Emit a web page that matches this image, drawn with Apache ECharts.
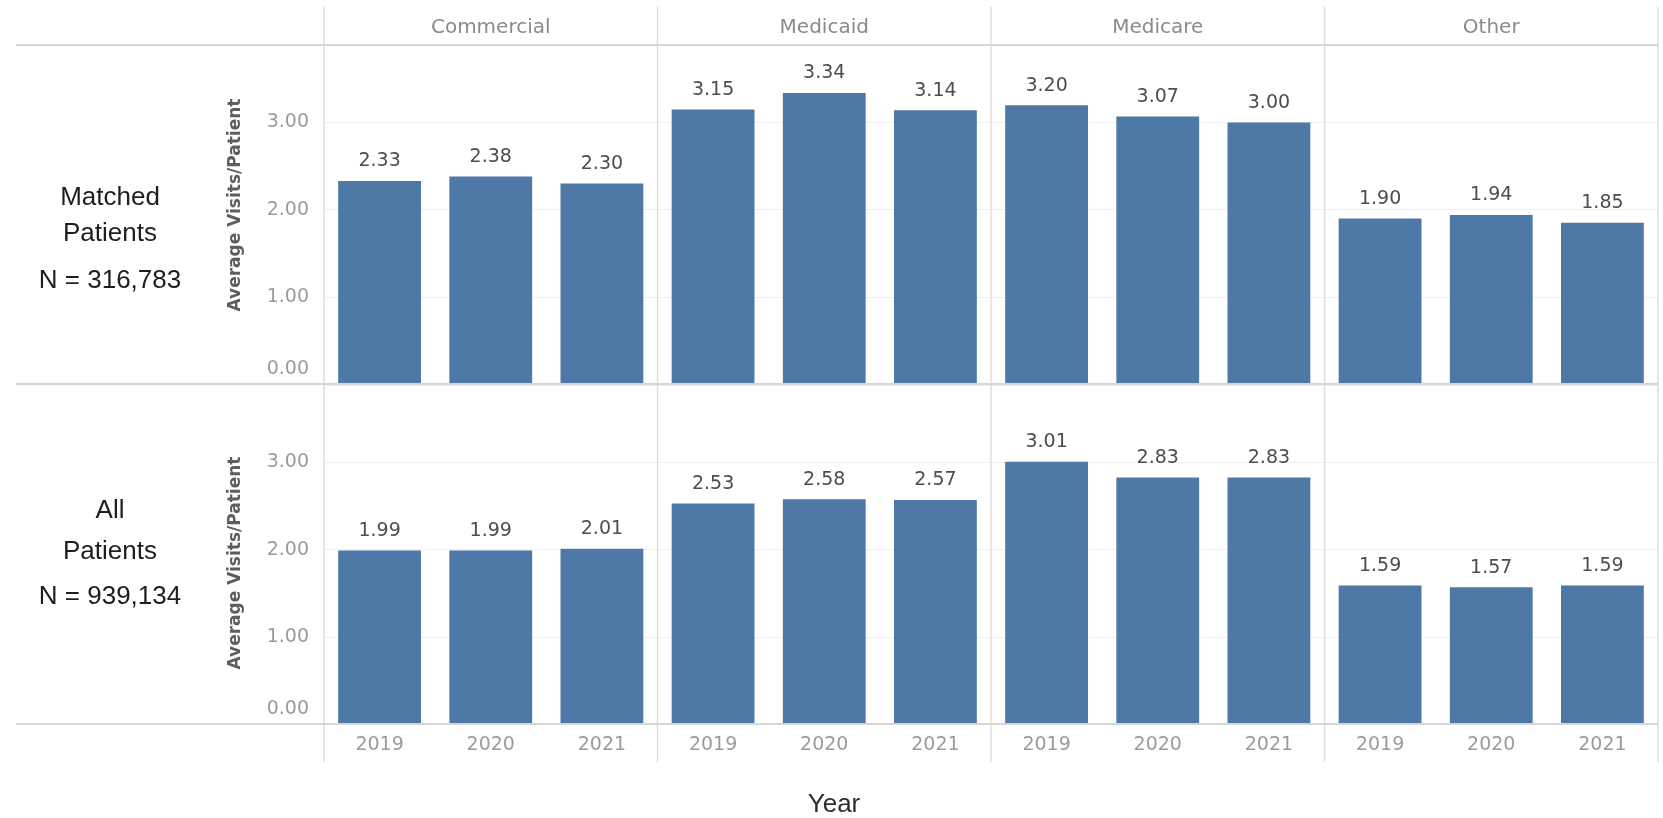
<!DOCTYPE html>
<html>
<head>
<meta charset="utf-8">
<script src="https://cdn.jsdelivr.net/npm/echarts/dist/echarts.min.js"></script>
<style>
  html, body { margin: 0; padding: 0; background: #ffffff; }
  #chart { width: 1663px; height: 818px; }
</style>
</head>
<body>
<div id="chart"></div>
<script>
// Average visits per patient by payer and year
const years = ['2019', '2020', '2021'];
const payers = ['Commercial', 'Medicaid', 'Medicare', 'Other'];

const matchedCommercial = [2.33, 2.38, 2.30];
const matchedMedicaid   = [3.15, 3.34, 3.14];
const matchedMedicare   = [3.20, 3.07, 3.00];
const matchedOther      = [1.90, 1.94, 1.85];

const allCommercial = [1.99, 1.99, 2.01];
const allMedicaid   = [2.53, 2.58, 2.57];
const allMedicare   = [3.01, 2.83, 2.83];
const allOther      = [1.59, 1.57, 1.59];

const yTicks = [0, 1, 2, 3];
const rowNames = [['Matched', 'Patients'], ['All', 'Patients']];
const rowCounts = ['N = 316,783', 'N = 939,134'];
const yTitle = 'Average Visits/Patient';
const xTitle = 'Year';

const rows = [
  [matchedCommercial, matchedMedicaid, matchedMedicare, matchedOther],
  [allCommercial, allMedicaid, allMedicare, allOther]
];

// panel layout
const paneLeft = 324, paneW = 333.5;
const rowTop = [45, 385], paneH = 339;
const yMax = 3.89;
const lineStart = 16, lineEnd = paneLeft + 4 * paneW;
const FONT = 'DejaVu Sans';
const SANS = 'Liberation Sans';
const BAR = '#4e79a7';

const grids = [], xAxes = [], yAxes = [], series = [];

rows.forEach((rowData, r) => {
  rowData.forEach((values, c) => {
    const idx = grids.length;
    grids.push({
      left: paneLeft + c * paneW,
      top: rowTop[r],
      width: paneW,
      height: paneH,
      containLabel: false,
      outerBoundsMode: 'none'
    });
    xAxes.push({
      type: 'category',
      gridIndex: idx,
      data: years,
      axisLine: { show: false },
      axisTick: { show: false },
      splitLine: { show: false },
      axisLabel: {
        show: r === 1,
        color: '#9b9b9b',
        fontFamily: FONT,
        fontSize: 19,
        margin: 12
      }
    });
    yAxes.push({
      type: 'value',
      gridIndex: idx,
      min: 0,
      max: yMax,
      interval: 1,
      axisLine: { show: false },
      axisTick: { show: false },
      splitLine: { show: true, lineStyle: { color: '#efefef', width: 1 } },
      axisLabel: {
        show: c === 0,
        color: '#9b9b9b',
        fontFamily: FONT,
        fontSize: 19,
        margin: 15,
        formatter: v => {
          if (!yTicks.includes(v)) return '';
          return v === 0 ? '{z|0.00}' : v.toFixed(2);
        },
        rich: {
          z: { color: '#9b9b9b', fontFamily: FONT, fontSize: 19, padding: [0, 0, 30, 0] }
        }
      }
    });
    series.push({
      type: 'bar',
      xAxisIndex: idx,
      yAxisIndex: idx,
      data: values,
      barCategoryGap: '25.5%',
      itemStyle: { color: BAR },
      label: {
        show: true,
        position: 'top',
        distance: 10,
        color: '#4d4d4d',
        fontFamily: FONT,
        fontSize: 19,
        formatter: p => p.value.toFixed(2)
      },
      emphasis: { disabled: true },
      animation: false
    });
  });
});

// frame lines, headers and row titles
const graphic = [];
const rowBottoms = [rowTop[0], rowTop[1] - 1, rowTop[1] + paneH];
rowBottoms.forEach(y => {
  graphic.push({
    type: 'line', silent: true, z: 5,
    shape: { x1: lineStart, y1: y, x2: lineEnd, y2: y },
    style: { stroke: '#d5d5d5', lineWidth: 2 }
  });
});
for (let c = 0; c <= payers.length; c++) {
  const x = paneLeft + c * paneW;
  graphic.push({
    type: 'line', silent: true, z: 4,
    shape: { x1: x, y1: 7, x2: x, y2: 762 },
    style: { stroke: '#dedede', lineWidth: 1.5 }
  });
}
payers.forEach((name, c) => {
  graphic.push({
    type: 'text', silent: true,
    x: paneLeft + (c + 0.5) * paneW, y: 28,
    style: { text: name, fill: '#8a8a8a', font: '20px "' + FONT + '"', align: 'center', verticalAlign: 'middle' }
  });
});
const rowTextY = [[198, 234, 281], [511, 552, 597]];
const titleY = [205, 563];
rowNames.forEach((lines, r) => {
  lines.concat([rowCounts[r]]).forEach((t, k) => {
    graphic.push({
      type: 'text', silent: true,
      x: 110, y: rowTextY[r][k],
      style: { text: t, fill: '#1e1e1e', font: '26px "' + SANS + '"', align: 'center', verticalAlign: 'middle' }
    });
  });
  graphic.push({
    type: 'text', silent: true,
    x: 236, y: titleY[r], rotation: Math.PI / 2,
    style: { text: yTitle, fill: '#5e5e5e', font: 'bold 17px "' + FONT + '"', align: 'center', verticalAlign: 'middle' }
  });
});
graphic.push({
  type: 'text', silent: true,
  x: 834, y: 805,
  style: { text: xTitle, fill: '#2e2e2e', font: '26px "' + SANS + '"', align: 'center', verticalAlign: 'middle' }
});

const chart = echarts.init(document.getElementById('chart'), null, { renderer: 'canvas' });
chart.setOption({
  backgroundColor: '#ffffff',
  animation: false,
  tooltip: { show: false },
  grid: grids,
  xAxis: xAxes,
  yAxis: yAxes,
  series: series,
  graphic: graphic
});
</script>
</body>
</html>
